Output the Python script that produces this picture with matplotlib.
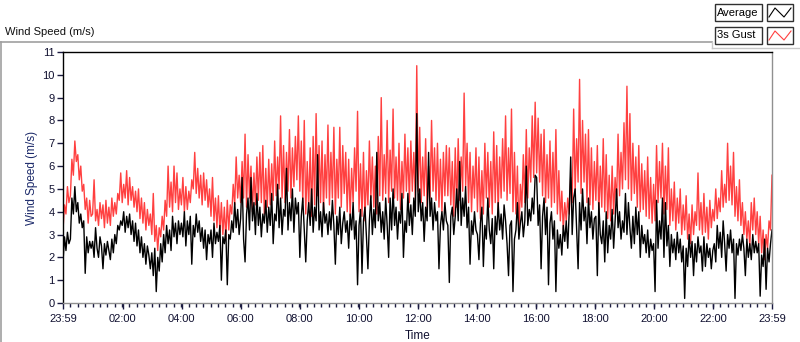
import numpy as np
import matplotlib
matplotlib.use("Agg")
import matplotlib.pyplot as plt
from matplotlib.lines import Line2D
from matplotlib.patches import Rectangle

plt.rcParams['font.family'] = ['Liberation Sans', 'DejaVu Sans']

# ---- data (3-minute samples) ----
gust = [
    3.2, 4.3, 3.9, 5.1, 4.4, 4.7, 6.3, 5.6, 7.1, 6.2, 6.5, 5.4, 6.0, 4.9, 5.2, 4.1, 4.6, 3.5, 4.5, 3.8,
    3.9, 5.4, 3.6, 4.1, 3.4, 4.4, 3.7, 4.3, 3.3, 4.5, 3.5, 4.2, 3.4, 4.6, 3.8, 4.4, 3.9, 4.8, 4.5, 5.7,
    4.4, 5.2, 4.6, 5.8, 4.3, 5.5, 4.5, 5.1, 4.2, 4.9, 4.0, 5.0, 3.7, 4.6, 3.5, 4.4, 3.2, 4.1, 3.4, 3.9,
    3.0, 4.8, 2.7, 3.4, 2.3, 3.3, 2.9, 3.8, 3.2, 4.5, 3.8, 6.0, 4.2, 5.3, 4.0, 6.0, 4.4, 5.7, 4.1, 5.0,
    4.3, 5.5, 4.0, 5.1, 4.1, 4.9, 4.4, 5.4, 5.0, 6.6, 4.8, 5.9, 4.6, 5.6, 4.3, 5.7, 4.5, 5.4, 4.2, 5.0,
    3.8, 5.5, 3.6, 4.6, 3.3, 4.7, 3.1, 4.4, 3.0, 4.2, 2.8, 4.5, 3.2, 4.3, 3.9, 5.2, 4.3, 6.4, 4.6, 5.6,
    4.4, 6.2, 4.6, 7.4, 4.2, 6.5, 4.6, 6.0, 4.0, 5.7, 4.3, 6.4, 4.5, 6.6, 4.4, 6.9, 3.9, 5.9, 4.2, 6.3,
    4.3, 6.1, 4.5, 7.1, 4.7, 6.4, 5.0, 8.2, 4.6, 6.9, 4.4, 6.6, 4.9, 7.6, 4.6, 6.8, 5.1, 7.3, 5.4, 8.2,
    4.9, 7.1, 4.4, 8.0, 3.9, 6.2, 4.2, 6.8, 3.8, 7.3, 4.3, 8.3, 4.7, 6.9, 4.4, 7.1, 4.0, 6.5, 4.6, 7.8,
    4.3, 6.6, 4.6, 7.7, 3.9, 6.3, 4.6, 7.7, 4.2, 6.9, 4.8, 6.6, 4.0, 6.3, 3.8, 5.9, 4.4, 6.8, 4.9, 8.4,
    4.0, 6.1, 3.8, 6.6, 3.6, 5.8, 4.3, 7.1, 4.6, 6.4, 4.2, 6.0, 3.9, 7.3, 4.7, 9.0, 4.5, 6.5, 4.8, 8.0,
    4.4, 6.7, 4.9, 8.5, 4.6, 6.4, 4.5, 7.0, 4.1, 6.2, 4.6, 7.4, 4.9, 6.8, 4.4, 7.1, 4.9, 6.6, 4.6, 10.4,
    4.9, 7.7, 4.4, 6.4, 4.7, 7.2, 4.1, 6.0, 4.6, 8.0, 4.9, 6.8, 4.5, 7.0, 4.2, 6.3, 4.0, 6.6, 4.7, 6.9,
    4.7, 6.8, 4.3, 6.2, 3.8, 6.8, 4.2, 7.2, 4.5, 6.4, 4.9, 9.2, 5.1, 7.0, 4.4, 6.6, 4.0, 6.0, 4.6, 6.8,
    4.0, 6.4, 3.7, 5.8, 3.9, 7.0, 4.6, 6.6, 4.2, 6.2, 3.9, 7.5, 4.4, 6.9, 4.0, 6.4, 4.6, 7.2, 4.9, 8.2,
    4.5, 6.8, 4.8, 8.5, 4.0, 6.6, 3.9, 6.0, 3.0, 5.2, 4.2, 6.5, 4.4, 7.6, 4.6, 6.8, 5.3, 8.2, 5.5, 8.8,
    5.7, 8.1, 5.3, 7.4, 4.7, 7.6, 4.4, 6.5, 4.6, 7.1, 4.2, 6.6, 4.4, 7.6, 3.9, 5.8, 3.6, 4.9, 3.2, 4.4,
    3.6, 4.6, 3.9, 5.5, 4.4, 8.5, 4.9, 7.2, 5.3, 9.8, 4.8, 8.0, 5.3, 7.4, 4.4, 7.6, 4.3, 6.8, 4.1, 6.2,
    4.5, 6.9, 3.9, 6.0, 4.2, 7.2, 4.0, 6.5, 3.7, 5.6, 3.6, 6.0, 3.9, 5.5, 4.4, 7.4, 4.7, 6.6, 5.0, 7.9,
    5.4, 9.5, 5.0, 8.3, 4.5, 7.0, 4.8, 6.4, 4.2, 6.9, 4.0, 6.1, 4.1, 5.8, 3.8, 6.4, 3.7, 5.5, 3.5, 5.2,
    3.6, 6.9, 4.4, 6.2, 4.6, 7.0, 3.9, 6.0, 4.1, 6.8, 3.4, 5.0, 3.6, 5.3, 3.2, 4.6, 3.5, 5.0, 3.0, 4.3,
    3.2, 4.7, 2.8, 3.9, 2.6, 4.3, 3.0, 4.0, 3.4, 5.7, 3.2, 4.4, 3.0, 4.8, 3.1, 4.2, 2.8, 4.5, 3.3, 4.1,
    3.6, 5.0, 3.7, 4.6, 4.0, 5.8, 4.2, 5.2, 4.4, 7.0, 4.5, 6.0, 4.3, 6.6, 3.8, 5.1, 3.6, 5.4, 3.4, 4.4,
    3.0, 4.0, 2.8, 3.6, 2.5, 4.4, 3.2, 4.6, 3.0, 4.0, 2.6, 3.8, 2.2, 3.2, 1.9, 3.0, 2.4, 3.6, 3.2, 5.6,
]
average = [
    1.8, 2.9, 2.3, 3.1, 2.6, 2.8, 4.6, 3.9, 5.1, 4.0, 4.4, 3.5, 3.9, 3.3, 3.6, 1.3, 2.9, 2.2, 2.7, 2.4,
    2.7, 2.0, 3.3, 2.4, 2.0, 2.9, 2.5, 1.5, 2.6, 2.1, 2.7, 2.3, 1.9, 2.8, 2.2, 3.0, 2.6, 3.4, 3.2, 3.6,
    3.4, 4.0, 3.1, 3.8, 3.3, 3.9, 3.0, 3.6, 2.7, 3.5, 2.5, 3.2, 2.2, 2.9, 2.0, 2.6, 1.7, 2.5, 2.1, 1.5,
    2.2, 1.2, 2.4, 0.5, 2.0, 1.4, 2.6, 1.8, 3.0, 2.2, 3.4, 2.6, 3.2, 2.3, 3.8, 2.9, 3.5, 2.6, 3.6, 3.0,
    3.5, 2.9, 4.0, 2.5, 3.6, 3.0, 3.8, 1.7, 3.4, 2.9, 3.9, 3.1, 3.6, 2.7, 3.3, 2.4, 3.2, 1.9, 3.0, 2.6,
    3.2, 2.0, 3.5, 2.6, 3.1, 2.7, 3.4, 1.0, 2.9, 2.6, 3.2, 0.8, 3.0, 2.8, 3.6, 3.1, 4.4, 3.3, 4.1, 3.0,
    3.7, 5.5, 2.8, 1.8, 3.9, 4.6, 3.2, 5.5, 3.6, 4.4, 3.0, 4.8, 3.4, 4.2, 2.9, 3.9, 3.5, 4.5, 3.1, 4.2,
    3.4, 4.8, 2.6, 3.9, 3.6, 5.2, 3.3, 4.6, 3.0, 4.1, 3.8, 5.9, 3.2, 4.4, 3.6, 5.0, 3.1, 4.6, 3.9, 4.4,
    2.0, 3.8, 4.6, 3.2, 1.8, 3.6, 4.4, 3.4, 5.0, 3.1, 4.2, 3.6, 6.5, 3.2, 4.0, 2.9, 4.4, 3.5, 3.9, 3.0,
    4.0, 3.2, 4.5, 3.4, 1.7, 3.8, 3.0, 4.2, 2.6, 3.5, 4.0, 3.1, 3.6, 2.4, 3.9, 3.2, 4.4, 2.8, 3.6, 0.8,
    3.4, 4.1, 1.3, 3.6, 4.2, 2.9, 1.5, 3.6, 4.7, 3.0, 4.1, 3.3, 6.6, 3.6, 4.4, 3.1, 4.0, 2.8, 4.6, 3.4,
    2.0, 4.6, 3.2, 5.0, 3.4, 4.2, 2.8, 4.0, 3.5, 4.8, 2.0, 3.6, 3.1, 4.8, 3.4, 4.3, 3.0, 4.6, 3.8, 8.3,
    4.0, 5.0, 3.6, 4.4, 2.7, 4.2, 3.6, 6.6, 3.8, 4.6, 3.2, 4.4, 3.6, 4.0, 1.5, 3.4, 4.0, 3.2, 4.4, 3.6,
    3.4, 0.9, 3.8, 4.2, 3.0, 3.8, 5.0, 3.6, 6.2, 3.4, 4.6, 3.8, 5.1, 3.3, 4.2, 1.7, 3.6, 3.0, 4.0, 3.2,
    3.0, 1.9, 3.5, 4.2, 1.6, 3.4, 2.8, 4.6, 3.2, 2.6, 3.7, 1.5, 3.8, 3.0, 4.4, 3.2, 3.9, 2.8, 4.3, 3.6,
    2.6, 1.2, 3.4, 3.6, 0.5, 2.8, 3.2, 4.4, 2.8, 3.5, 4.0, 2.9, 3.6, 6.0, 3.4, 4.1, 3.6, 4.6, 3.9, 5.6,
    5.5, 3.4, 4.3, 1.5, 3.8, 4.6, 3.0, 4.2, 0.8, 3.5, 4.0, 2.8, 3.6, 0.5, 3.2, 2.4, 3.0, 2.1, 3.4, 2.7,
    3.6, 2.4, 4.0, 6.4, 3.0, 4.6, 5.0, 3.2, 1.5, 4.4, 3.2, 5.0, 3.6, 4.2, 2.6, 4.6, 3.3, 4.0, 2.8, 3.7,
    3.8, 1.2, 4.4, 3.0, 2.6, 3.6, 1.8, 4.0, 2.2, 3.4, 2.8, 4.1, 2.4, 3.6, 5.0, 3.3, 4.0, 2.8, 3.6, 3.1,
    4.8, 3.0, 4.4, 3.3, 2.4, 3.8, 2.6, 4.2, 3.0, 4.0, 2.0, 3.4, 2.6, 3.0, 2.2, 3.2, 2.0, 2.8, 2.3, 2.6,
    0.5, 4.5, 2.4, 3.6, 2.8, 4.6, 2.0, 4.4, 2.5, 3.4, 1.6, 3.0, 2.2, 2.8, 1.9, 3.1, 2.2, 2.8, 1.8, 2.5,
    0.2, 2.4, 1.6, 3.0, 2.0, 2.7, 1.2, 2.6, 1.8, 2.9, 2.2, 2.5, 1.4, 2.9, 1.6, 2.6, 2.0, 2.4, 1.5, 2.3,
    2.6, 1.8, 3.4, 2.4, 3.1, 2.0, 3.6, 2.6, 1.4, 3.0, 2.4, 3.2, 2.2, 2.8, 0.2, 2.6, 2.1, 2.8, 2.3, 3.0,
    2.4, 1.2, 2.8, 2.0, 2.6, 1.9, 3.0, 2.2, 2.7, 2.2, 2.6, 0.3, 2.1, 1.6, 2.8, 0.6, 2.4, 1.8, 2.6, 3.2,
]
tick_minutes = [0, 121, 241, 361, 481, 601, 721, 841, 961, 1081, 1201, 1321, 1440]
tick_labels = ["23:59", "02:00", "04:00", "06:00", "08:00", "10:00", "12:00",
               "14:00", "16:00", "18:00", "20:00", "22:00", "23:59"]
y_ticks = list(range(0, 12))

W, H = 800, 342
fig = plt.figure(figsize=(W / 100, H / 100), dpi=100)

def fx(px):
    return px / W

def fy(py):
    return 1 - py / H

ax = fig.add_axes([fx(63), fy(303), fx(772) - fx(63), fy(52) - fy(303)])
t = np.linspace(0, 1440, len(gust))
ax.plot(t, gust, color='#ff4040', lw=1.0)
ax.plot(t, average, color='black', lw=1.0)

ax.set_xlim(0, 1440)
ax.set_ylim(0, 11)
ax.set_yticks(y_ticks)
ax.set_yticklabels([str(v) for v in y_ticks])
ax.set_xticks(tick_minutes)
ax.set_xticklabels(tick_labels)
ax.set_xticks(np.arange(0, 1441, 15), minor=True)
ax.tick_params(axis='both', which='major', labelsize=8, colors='#1a1a40', length=4, width=1)
ax.tick_params(axis='x', which='major', pad=4)
ax.tick_params(axis='y', which='major', pad=2)
ax.tick_params(axis='x', which='minor', length=3, width=1, color='#1a1a40')
ax.tick_params(axis='y', which='minor', left=False)
for lab in ax.get_xticklabels() + ax.get_yticklabels():
    lab.set_color('#101030')

ax.spines['top'].set_color('black')
ax.spines['left'].set_color('black')
ax.spines['right'].set_color('#909090')
ax.spines['bottom'].set_color('#909090')
for s in ax.spines.values():
    s.set_linewidth(1)

ax.set_ylabel("Wind Speed (m/s)", fontsize=8.5, color='#1c2a6a', labelpad=3)
ax.set_xlabel("Time", fontsize=8.5, color='#101030', labelpad=4)

# outer frame and title
fig.add_artist(Line2D([fx(0), fx(712)], [fy(42), fy(42)], color='#a0a0a0', lw=1.2))
fig.add_artist(Line2D([fx(1), fx(1)], [fy(42), fy(342)], color='#a0a0a0', lw=1.2))
fig.add_artist(Line2D([fx(712), fx(712)], [fy(42), fy(48)], color='#c8c8c8', lw=1))
fig.add_artist(Line2D([fx(712), fx(800)], [fy(48), fy(48)], color='#c8c8c8', lw=1))
fig.text(fx(5), fy(32), "Wind Speed (m/s)", fontsize=8, color='#101010', va='center', ha='left')

# legend
legend_names = ["Average", "3s Gust"]
legend_colors = ['black', '#ff4040']
rows = [(4, 21), (27, 44)]
for (y0, y1), name, col in zip(rows, legend_names, legend_colors):
    fig.add_artist(Rectangle((fx(715), fy(y1)), fx(762) - fx(715), fy(y0) - fy(y1),
                             transform=fig.transFigure, facecolor='white', edgecolor='#303030', lw=1))
    fig.text(fx(717), fy((y0 + y1) / 2), name, fontsize=8, color='black', va='center', ha='left')
    fig.add_artist(Rectangle((fx(767), fy(y1)), fx(793) - fx(767), fy(y0) - fy(y1),
                             transform=fig.transFigure, facecolor='white', edgecolor='#303030', lw=1))
    xs = [769, 775, 784, 791]
    ys = [y1 - 4, y0 + 4, y1 - 4, y0 + 4]
    fig.add_artist(Line2D([fx(v) for v in xs], [fy(v) for v in ys], color=col, lw=0.8))

fig.savefig("out.png", dpi=100)
